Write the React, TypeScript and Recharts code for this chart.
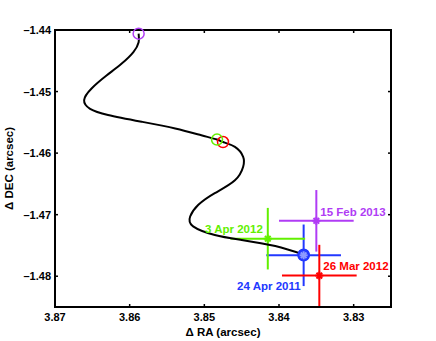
import {
  ComposedChart,
  ErrorBar,
  ReferenceArea,
  Scatter,
  XAxis,
  YAxis,
} from "recharts";

// model track (ΔRA, ΔDEC), from the magenta end to the blue end
const trackRa = [
  3.8588, 3.8588, 3.8595, 3.8611, 3.8631, 3.8651, 3.8661, 3.8653, 3.8629,
  3.8584, 3.8539, 3.8504, 3.8483, 3.8475, 3.8459, 3.8448, 3.8448, 3.8459,
  3.8486, 3.8508, 3.8519, 3.8515, 3.8486, 3.845, 3.8405, 3.8367,
];
const trackDec = [
  -1.4406, -1.442, -1.4436, -1.4455, -1.4474, -1.4495, -1.4514, -1.4528,
  -1.4538, -1.4549, -1.456, -1.4571, -1.4578, -1.4582, -1.459, -1.4606,
  -1.4622, -1.4644, -1.4665, -1.4684, -1.4703, -1.4719, -1.4733, -1.4741,
  -1.4751, -1.4765,
];

const epochs = ["24 Apr 2011", "26 Mar 2012", "3 Apr 2012", "15 Feb 2013"];
const obsRa = [3.8367, 3.8346, 3.8415, 3.835];
const obsDec = [-1.4766, -1.4799, -1.4739, -1.471];
const raErr = [0.005, 0.005, 0.005, 0.005];
const decErr = [0.005, 0.005, 0.005, 0.005];
const modelRa = [3.8367, 3.8475, 3.8483, 3.8588];
const modelDec = [-1.4765, -1.4582, -1.4578, -1.4406];

const raDomain = [3.825, 3.87];
const decDomain = [-1.485, -1.44];
const raTicks = [3.87, 3.86, 3.85, 3.84, 3.83];
const decTicks = [-1.44, -1.45, -1.46, -1.47, -1.48];

const colors = ["#2238ff", "#ff0000", "#62f000", "#b03cf5"];
const labelPos = [
  { dx: -3, dy: 35, anchor: "end" },
  { dx: 4, dy: -6, anchor: "start" },
  { dx: -5, dy: -6, anchor: "end" },
  { dx: 4, dy: -5, anchor: "start" },
];

const font = "'Liberation Sans', Arial, sans-serif";
const track = trackRa.map((x, i) => ({ x, y: trackDec[i] }));
const fmt = (v: number) => (v < 0 ? "\u2013" + Math.abs(v).toFixed(2) : v.toFixed(2));
const frame = { stroke: "#000", strokeWidth: 2 };

function tick(side: string) {
  return (p: any) => {
    const { x, y, payload } = p;
    const d = 3;
    const end =
      side === "bottom" ? [x, y - d] : side === "top" ? [x, y + d] : side === "left" ? [x + d, y] : [x - d, y];
    return (
      <g>
        <line x1={x} y1={y} x2={end[0]} y2={end[1]} stroke="#000" strokeWidth={1.5} />
        {side === "bottom" && (
          <text x={x} y={y + 14} textAnchor="middle" fontSize={11} fontWeight="bold" fontFamily={font}>
            {fmt(payload.value)}
          </text>
        )}
        {side === "left" && (
          <text x={x - 4} y={y + 4} textAnchor="end" fontSize={11} fontWeight="bold" fontFamily={font}>
            {fmt(payload.value)}
          </text>
        )}
      </g>
    );
  };
}

function asterisk(cx: number, cy: number, color: string, r = 4) {
  const k = r * 0.7071;
  return (
    <g stroke={color} strokeWidth={2}>
      <line x1={cx - r} y1={cy} x2={cx + r} y2={cy} />
      <line x1={cx} y1={cy - r} x2={cx} y2={cy + r} />
      <line x1={cx - k} y1={cy - k} x2={cx + k} y2={cy + k} />
      <line x1={cx - k} y1={cy + k} x2={cx + k} y2={cy - k} />
    </g>
  );
}

export default function App() {
  return (
    <div style={{ position: "absolute", left: 0, top: 0 }}>
      <ComposedChart width={436} height={341} margin={{ top: 29, right: 44, bottom: 0, left: 0 }}>
        <XAxis
          dataKey="x"
          type="number"
          domain={raDomain}
          ticks={raTicks}
          reversed
          height={34}
          tickSize={0}
          tickMargin={0}
          tickLine={false}
          axisLine={frame}
          tick={tick("bottom")}
          label={{
            content: (p: any) => (
              <text
                x={p.viewBox.x + p.viewBox.width / 2}
                y={p.viewBox.y + 29}
                textAnchor="middle"
                fontSize={11.5}
                fontWeight="bold"
                fontFamily={font}
              >
                {"\u0394 RA (arcsec)"}
              </text>
            ),
          }}
        />
        <XAxis
          xAxisId="top"
          orientation="top"
          dataKey="x"
          type="number"
          domain={raDomain}
          ticks={raTicks}
          reversed
          height={1}
          tickSize={0}
          tickMargin={0}
          tickLine={false}
          axisLine={frame}
          tick={tick("top")}
        />
        <YAxis
          dataKey="y"
          type="number"
          domain={decDomain}
          ticks={decTicks}
          width={55}
          tickSize={0}
          tickMargin={0}
          tickLine={false}
          axisLine={frame}
          tick={tick("left")}
          label={{
            content: (p: any) => {
              const cx = 13;
              const cy = p.viewBox.y + p.viewBox.height / 2;
              return (
                <text
                  x={cx}
                  y={cy}
                  transform={`rotate(-90 ${cx} ${cy})`}
                  textAnchor="middle"
                  fontSize={11.5}
                  fontWeight="bold"
                  fontFamily={font}
                >
                  {"\u0394 DEC (arcsec)"}
                </text>
              );
            },
          }}
        />
        <YAxis
          yAxisId="right"
          orientation="right"
          dataKey="y"
          type="number"
          domain={decDomain}
          ticks={decTicks}
          width={1}
          tickSize={0}
          tickMargin={0}
          tickLine={false}
          axisLine={frame}
          tick={tick("right")}
        />

        {/* box round the plot, MATLAB style */}
        <ReferenceArea
          x1={raDomain[0]}
          x2={raDomain[1]}
          y1={decDomain[0]}
          y2={decDomain[1]}
          fill="none"
          fillOpacity={0}
          stroke="#000"
          strokeWidth={2}
        />

        {/* invisible copy so the top / right frame axes get registered */}
        <Scatter
          data={track}
          xAxisId="top"
          yAxisId="right"
          shape={() => <g />}
          isAnimationActive={false}
        />

        <Scatter
          data={track}
          line={{ stroke: "#000", strokeWidth: 2 }}
          lineJointType="natural"
          shape={() => <g />}
          isAnimationActive={false}
        />

        {epochs.map((name, i) => (
          <Scatter
            key={"m" + name}
            data={[{ x: modelRa[i], y: modelDec[i] }]}
            shape={(p: any) => (
              <circle cx={p.cx} cy={p.cy} r={5.5} fill="none" stroke={colors[i]} strokeWidth={1.5} />
            )}
            isAnimationActive={false}
          />
        ))}

        {epochs.map((name, i) => (
          <Scatter
            key={"o" + name}
            data={[{ x: obsRa[i], y: obsDec[i], ex: raErr[i], ey: decErr[i] }]}
            shape={(p: any) => (
              <g>
                {i === 0 && <circle cx={p.cx} cy={p.cy} r={5.5} fill={colors[i]} stroke={colors[i]} strokeWidth={1.5} />}
                {asterisk(p.cx, p.cy, i === 0 ? "#8f9cff" : colors[i])}
                <text
                  x={p.cx + labelPos[i].dx}
                  y={p.cy + labelPos[i].dy}
                  textAnchor={labelPos[i].anchor as any}
                  fill={colors[i]}
                  fontSize={11.5}
                  fontWeight="bold"
                  fontFamily={font}
                >
                  {name}
                </text>
              </g>
            )}
            isAnimationActive={false}
          >
            <ErrorBar dataKey="ex" direction="x" width={0} stroke={colors[i]} strokeWidth={2} />
            <ErrorBar dataKey="ey" direction="y" width={0} stroke={colors[i]} strokeWidth={2} />
          </Scatter>
        ))}
      </ComposedChart>
    </div>
  );
}
